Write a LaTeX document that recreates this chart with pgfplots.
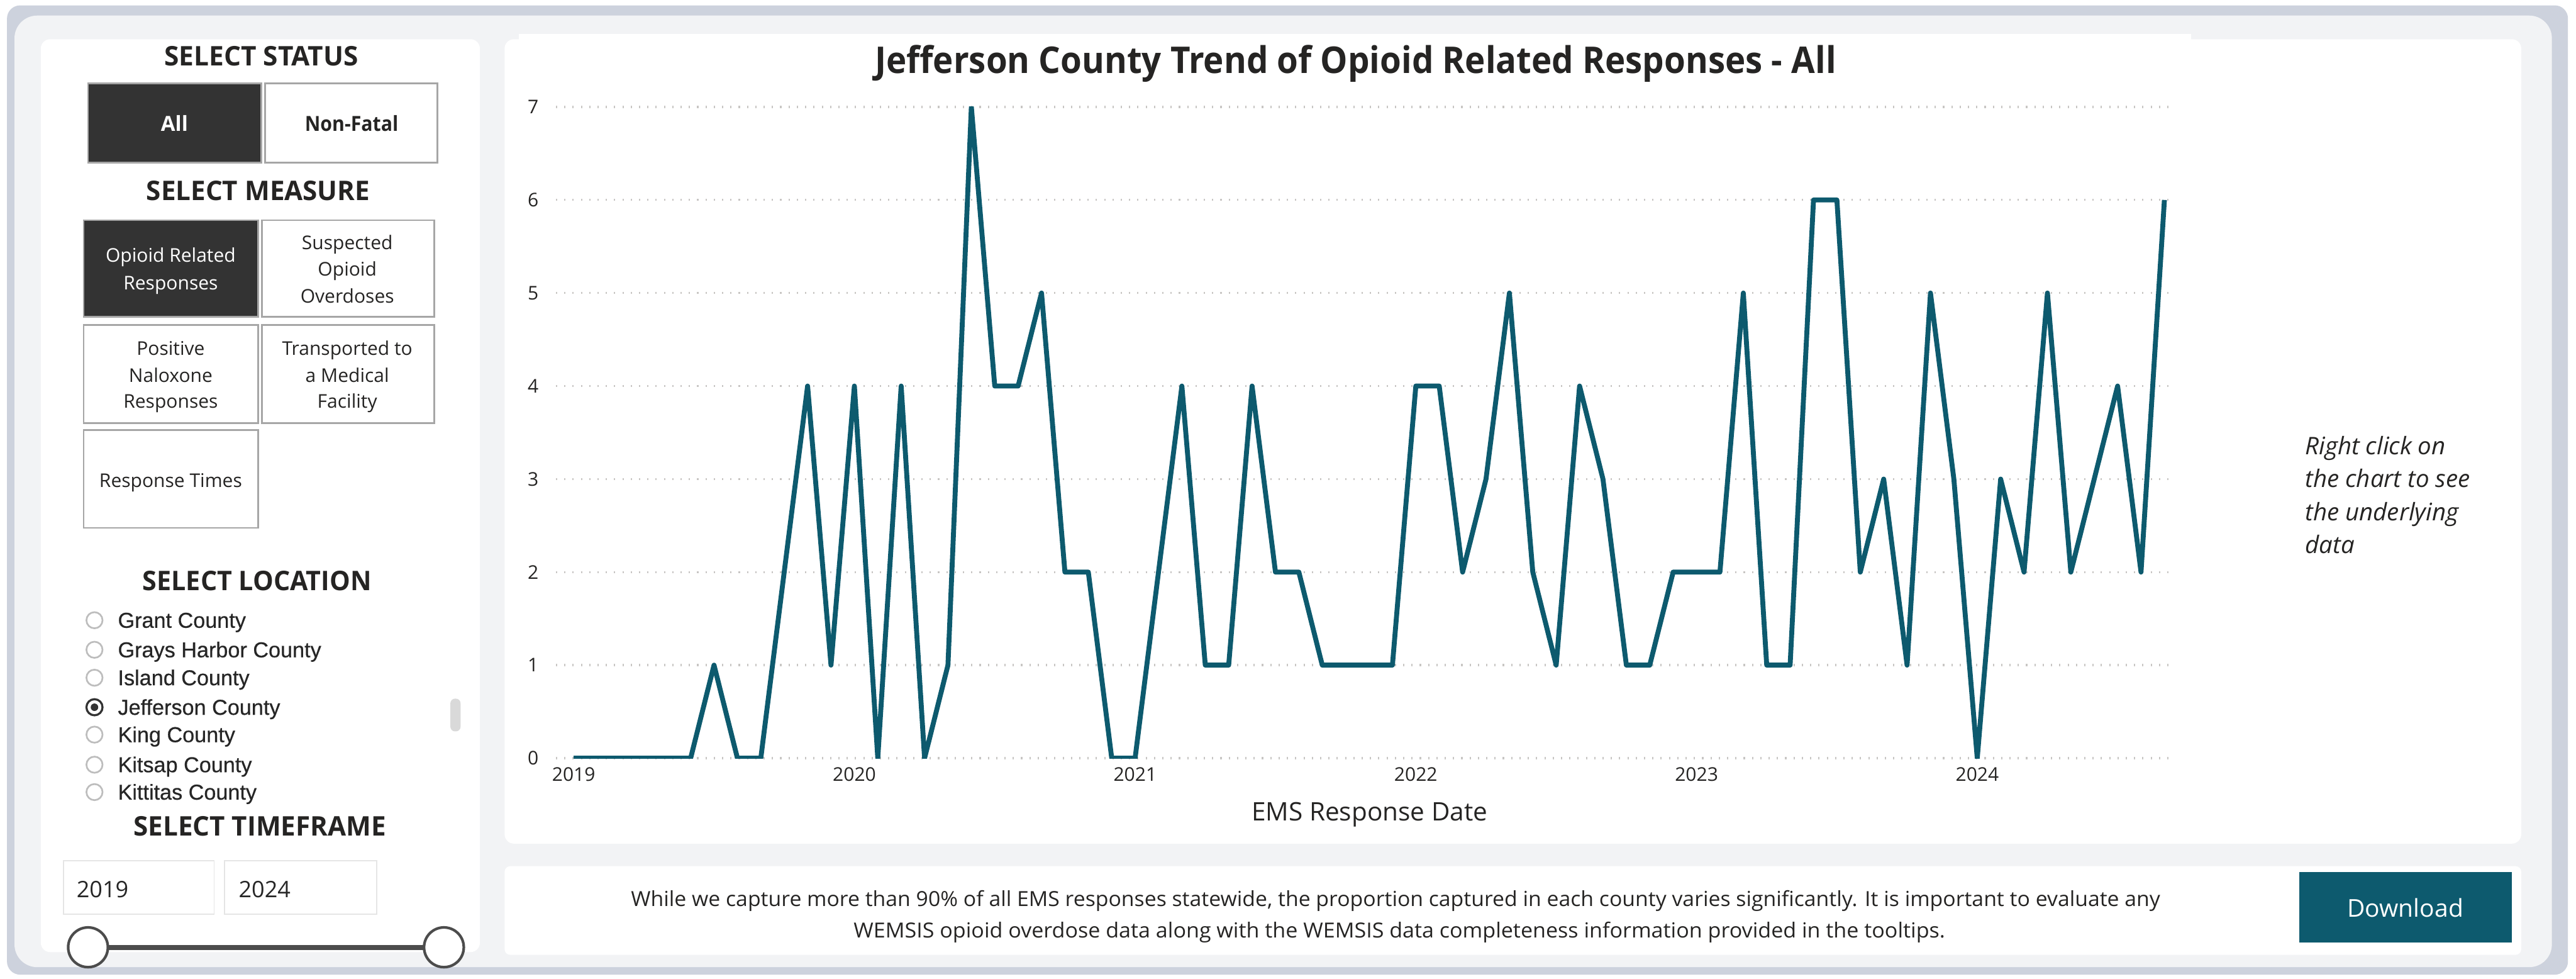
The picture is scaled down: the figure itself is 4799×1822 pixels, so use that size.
\documentclass[border=0pt]{standalone}
\usepackage{pgfplots}
\pgfplotsset{compat=1.18}
\usepackage{pgfplotstable}
\usepackage{graphicx}
\usepackage{fontspec}
\setmainfont{Open Sans}
\newfontfamily\arialf{Liberation Sans}[FakeBold=0.5]

\definecolor{pbiTeal}{HTML}{0D5A6E}
\definecolor{frameband}{HTML}{CDD2DD}
\definecolor{canvas}{HTML}{F2F3F5}
\definecolor{btndark}{HTML}{333333}
\definecolor{btnedge}{HTML}{A6A6A6}
\definecolor{ink}{HTML}{252423}
\definecolor{radioedge}{HTML}{BDBDBD}
\definecolor{gridgray}{HTML}{C8C6C4}

\newcommand{\fs}[2]{\fontsize{#1}{#2}\selectfont}
% squeeze a line horizontally to a given width, keeping its height
\newcommand{\fitw}[2]{\resizebox{#1}{\height}{#2}}

% monthly counts, Jan 2019 (0) to Sep 2024 (68)
\pgfplotstableread{
idx count
0 0
1 0
2 0
3 0
4 0
5 0
6 1
7 0
8 0
9 2
10 4
11 1
12 4
13 0
14 4
15 0
16 1
17 7
18 4
19 4
20 5
21 2
22 2
23 0
24 0
25 2
26 4
27 1
28 1
29 4
30 2
31 2
32 1
33 1
34 1
35 1
36 4
37 4
38 2
39 3
40 5
41 2
42 1
43 4
44 3
45 1
46 1
47 2
48 2
49 2
50 5
51 1
52 1
53 6
54 6
55 2
56 3
57 1
58 5
59 3
60 0
61 3
62 2
63 5
64 2
65 3
66 4
67 2
68 6
}\responses

\begin{document}
\begin{tikzpicture}[x=0.01cm,y=0.01cm]
\path[use as bounding box, fill=white] (0,0) rectangle (4799,-1822);

% report frame and canvas
\fill[frameband, rounded corners=7pt] (13,-10) rectangle (4784,-1815);
\fill[canvas, rounded corners=12pt] (27,-29) rectangle (4754,-1801);

% panels
\fill[white, rounded corners=5pt] (76,-73) rectangle (894,-1773);
\fill[white, rounded corners=5pt] (940,-73) rectangle (4697,-1571);
\fill[white] (967,-63) rectangle (4082,-110);
\fill[white, rounded corners=3pt] (940,-1613) rectangle (4697,-1778);

% ---------- slicer panel ----------
\node[anchor=base, text=ink] at (487,-122) {\fitw{3.61cm}{\fs{14.3}{17}\bfseries SELECT STATUS}};
\draw[btnedge, line width=0.9pt, fill=btndark] (164,-155) rectangle (487,-303);
\draw[btnedge, line width=0.9pt, fill=white] (494,-155) rectangle (815,-303);
\node[anchor=base, text=white] at (325,-244) {\fs{11}{13}\bfseries All};
\node[anchor=base, text=ink] at (655,-244) {\fitw{1.74cm}{\fs{11}{13}\bfseries Non-Fatal}};

\node[anchor=base, text=ink] at (481,-373) {\fitw{4.16cm}{\fs{14.3}{17}\bfseries SELECT MEASURE}};
\draw[btnedge, line width=0.9pt, fill=btndark] (156,-410) rectangle (481,-590);
\draw[btnedge, line width=0.9pt, fill=white] (488,-410) rectangle (809,-590);
\draw[btnedge, line width=0.9pt, fill=white] (156,-605) rectangle (481,-788);
\draw[btnedge, line width=0.9pt, fill=white] (488,-605) rectangle (809,-788);
\draw[btnedge, line width=0.9pt, fill=white] (156,-801) rectangle (481,-983);
\begin{scope}[every node/.style={anchor=base, font=\fs{10}{12}}]
\node[text=white] at (318,-488) {Opioid Related};
\node[text=white] at (318,-539) {Responses};
\node[text=ink] at (647,-464) {Suspected};
\node[text=ink] at (647,-514) {Opioid};
\node[text=ink] at (647,-564) {Overdoses};
\node[text=ink] at (318,-661) {Positive};
\node[text=ink] at (318,-712) {Naloxone};
\node[text=ink] at (318,-760) {Responses};
\node[text=ink] at (647,-661) {Transported to};
\node[text=ink] at (647,-712) {a Medical};
\node[text=ink] at (647,-760) {Facility};
\node[text=ink] at (318,-907) {Response Times};
\end{scope}

\node[anchor=base, text=ink] at (479,-1099) {\fitw{4.26cm}{\fs{14.3}{17}\bfseries SELECT LOCATION}};
\begin{scope}[every node/.style={anchor=base west, inner sep=0pt, font=\arialf\fs{11.4}{13}, text=black!85}]
\foreach \yy/\name in {1155/Grant County, 1210/Grays Harbor County, 1262/Island County,
  1317/Jefferson County, 1368/King County, 1424/Kitsap County, 1475/Kittitas County}{
  \node at (219,-\yy-14) {\name};
}
\end{scope}
\foreach \yy in {1155,1210,1262,1368,1424,1475}{
  \draw[radioedge, line width=0.9pt, fill=white] (176,-\yy) circle[radius=15];
}
\draw[black!80, line width=1.1pt, fill=white] (176,-1317) circle[radius=15];
\fill[black!80] (176,-1317) circle[radius=7];
\fill[black!15, rounded corners=2.5pt] (839,-1301) rectangle (858,-1362);

\node[anchor=base, text=ink] at (484,-1557) {\fitw{4.70cm}{\fs{14.3}{17}\bfseries SELECT TIMEFRAME}};
\draw[black!10, line width=0.6pt] (118,-1603) rectangle (399,-1702);
\draw[black!10, line width=0.6pt] (418,-1603) rectangle (702,-1702);
\node[anchor=base west, inner sep=0pt, text=black!85, font=\fs{12}{14}] at (142,-1671) {2019};
\node[anchor=base west, inner sep=0pt, text=black!85, font=\fs{12}{14}] at (444,-1671) {2024};
\draw[black!70, line width=2.6pt] (164,-1764) -- (827,-1764);
\draw[black!70, line width=1.4pt, fill=white] (164,-1764) circle[radius=37];
\draw[black!70, line width=1.4pt, fill=white] (827,-1764) circle[radius=37];

% ---------- trend chart ----------
\begin{axis}[
  scale only axis,
  width=30.14cm, height=12.12cm,
  at={(10.35cm,-14.11cm)}, anchor=south west,
  xmin=-0.76, xmax=68.44, ymin=0, ymax=7,
  axis line style={draw=none},
  major tick length=0pt,
  xtick={0,12,24,36,48,60},
  xticklabels={2019,2020,2021,2022,2023,2024},
  ytick={0,1,...,7},
  ymajorgrids,
  grid style={gridgray, line width=1.1pt, dash pattern=on 0.7pt off 3.7pt},
  /pgf/number format/assume math mode=true,
  tick label style={font=\fs{10}{12}, text=ink},
  yticklabel style={anchor=east, xshift=-0.2cm},
  xticklabel style={anchor=north, yshift=-0.05cm},
  title={\fitw{17.90cm}{\fs{19.5}{23}\bfseries Jefferson County Trend of Opioid Related Responses - All}},
  title style={at={(axis description cs:0,1)}, anchor=base, xshift=14.89cm, yshift=0.42cm, text=ink},
  xlabel={EMS Response Date},
  xlabel style={at={(axis description cs:0,0)}, anchor=base, xshift=15.15cm, yshift=-1.17cm,
    font=\fs{13.5}{16}, text=ink},
]
\addplot[pbiTeal, line width=2.6pt, line join=round, mark=none] table[x=idx, y=count] {\responses};
\end{axis}

\begin{scope}[every node/.style={anchor=base west, inner sep=0pt, font=\fs{12.8}{15}\itshape, text=ink}]
\node at (4294,-846) {Right click on};
\node at (4294,-907) {the chart to see};
\node at (4294,-969) {the underlying};
\node at (4294,-1030) {data};
\end{scope}

% ---------- footnote and button ----------
\node[anchor=base, text=ink] at (2600,-1688) {\fitw{28.47cm}{\fs{11}{13}While we capture more than 90\% of all EMS responses statewide, the proportion captured in each county varies significantly. It is important to evaluate any}};
\node[anchor=base, text=ink] at (2607,-1746) {\fitw{20.32cm}{\fs{11}{13}WEMSIS opioid overdose data along with the WEMSIS data completeness information provided in the tooltips.}};
\fill[pbiTeal] (4283,-1624) rectangle (4680,-1755);
\node[text=white, font=\fs{13}{15}] at (4481,-1690) {Download};
\end{tikzpicture}
\end{document}
